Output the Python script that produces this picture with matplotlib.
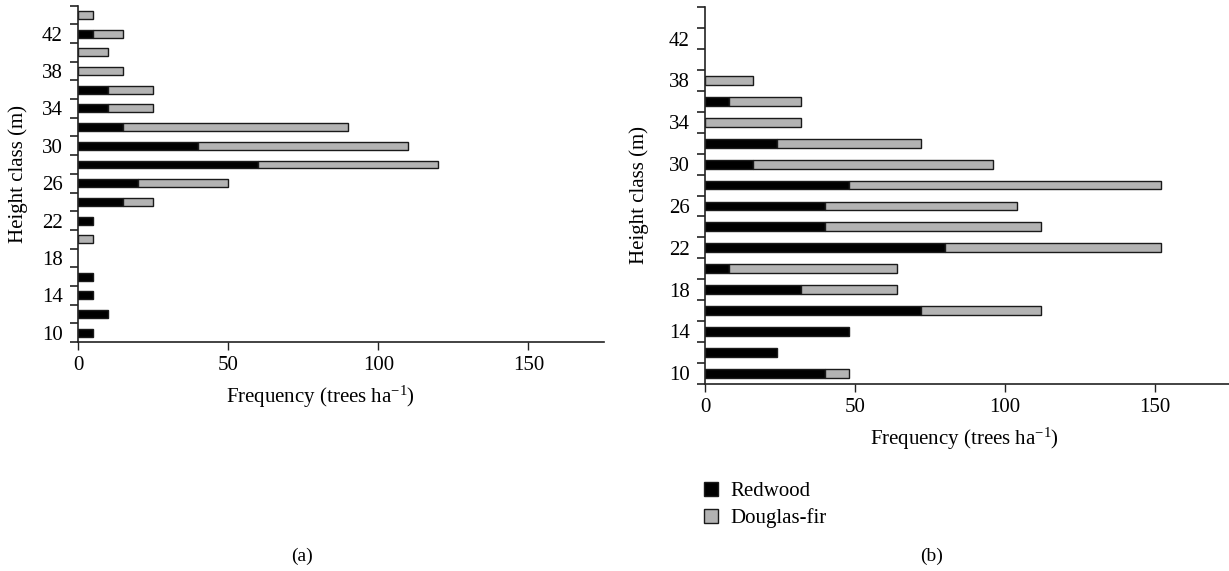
import matplotlib
matplotlib.use("Agg")
import matplotlib.pyplot as plt
from matplotlib.patches import Patch
import numpy as np

plt.rcParams['font.family'] = ['Liberation Serif', 'DejaVu Serif']
plt.rcParams['mathtext.fontset'] = 'custom'
plt.rcParams['mathtext.rm'] = 'Liberation Serif'
plt.rcParams['mathtext.it'] = 'Liberation Serif:italic'

# Height classes (m)
height_classes = [10, 12, 14, 16, 18, 20, 22, 24, 26, 28, 30, 32, 34, 36, 38, 40, 42, 44]
height_tick_labels = [10, 14, 18, 22, 26, 30, 34, 38, 42]

# Panel (a)
redwood_a = [5, 10, 5, 5, 0, 0, 5, 15, 20, 60, 40, 15, 10, 10, 0, 0, 5, 0]
douglas_a = [0, 0, 0, 0, 0, 5, 0, 10, 30, 60, 70, 75, 15, 15, 15, 10, 10, 5]

# Panel (b)
redwood_b = [40, 24, 48, 72, 32, 8, 80, 40, 40, 48, 16, 24, 0, 8, 0, 0, 0, 0]
douglas_b = [8, 0, 0, 40, 32, 56, 72, 72, 64, 104, 80, 48, 32, 24, 16, 0, 0, 0]

x_ticks = [0, 50, 100, 150]
series_labels = ['Redwood', 'Douglas-fir']
red_color = '#000000'
df_color = '#b3b3b3'

W, H = 1229, 571
fig = plt.figure(figsize=(W / 100, H / 100), dpi=100)

FS = 15


def make_axes(left, right, top, bottom):
    return fig.add_axes([left / W, 1 - bottom / H, (right - left) / W, (bottom - top) / H])


def draw(ax, red, df):
    y = np.array(height_classes)
    red = np.array(red)
    df = np.array(df)
    m = red > 0
    ax.barh(y[m], red[m], height=0.85, color=red_color, edgecolor='#1a1a1a', linewidth=1.0)
    m2 = df > 0
    ax.barh(y[m2], df[m2], left=red[m2], height=0.85, color=df_color, edgecolor='#1a1a1a', linewidth=1.0)
    ax.set_xlim(0, 175)
    ax.set_ylim(9, 45)
    for s in ['top', 'right']:
        ax.spines[s].set_visible(False)
    for s in ['left', 'bottom']:
        ax.spines[s].set_linewidth(1.2)
        ax.spines[s].set_color('#222222')
    bounds = np.arange(9, 46, 2)
    ax.set_yticks(bounds)
    ax.set_yticklabels([''] * len(bounds))
    ax.set_yticks(height_tick_labels, minor=True)
    ax.set_yticklabels([str(v) for v in height_tick_labels], minor=True, fontsize=FS)
    ax.tick_params(axis='y', which='major', direction='out', length=6, width=1.2, color='#222222')
    ax.tick_params(axis='y', which='minor', length=0, pad=11)
    ax.set_xticks(x_ticks)
    ax.set_xticklabels([str(v) for v in x_ticks], fontsize=FS)
    ax.tick_params(axis='x', direction='out', length=6, width=1.0, color='#222222', pad=4)


# Panel (a)
ax1 = make_axes(78, 603.5, 5.7, 342)
draw(ax1, redwood_a, douglas_a)
ax1.set_ylabel('Height class (m)', fontsize=FS)
ax1.yaxis.set_label_coords((28 - 78) / 525.5, 0.5)

# Panel (b)
ax2 = make_axes(705, 1230, 7.3, 383.7)
draw(ax2, redwood_b, douglas_b)
ax2.set_ylabel('Height class (m)', fontsize=FS)
ax2.yaxis.set_label_coords((649 - 705) / 525, 0.5)

# x labels
fig.text(320 / W, 1 - 397 / H, r'Frequency (trees ha$^{-1}$)', ha='center', va='center', fontsize=FS)
fig.text(964 / W, 1 - 439 / H, r'Frequency (trees ha$^{-1}$)', ha='center', va='center', fontsize=FS)

# panel letters
fig.text(302 / W, 1 - 556 / H, '(a)', ha='center', va='center', fontsize=14)
fig.text(932 / W, 1 - 556 / H, '(b)', ha='center', va='center', fontsize=14)

# legend
handles = [Patch(facecolor=red_color, edgecolor='#1a1a1a', linewidth=1.0),
           Patch(facecolor=df_color, edgecolor='#1a1a1a', linewidth=1.0)]
fig.legend(handles, series_labels, loc='center left',
           bbox_to_anchor=(704 / W, 1 - 505 / H), frameon=False,
           borderpad=0, borderaxespad=0, handlelength=0.65, handleheight=0.65,
           handletextpad=0.6, labelspacing=0.32, fontsize=FS)

fig.savefig('out.png', dpi=100)
